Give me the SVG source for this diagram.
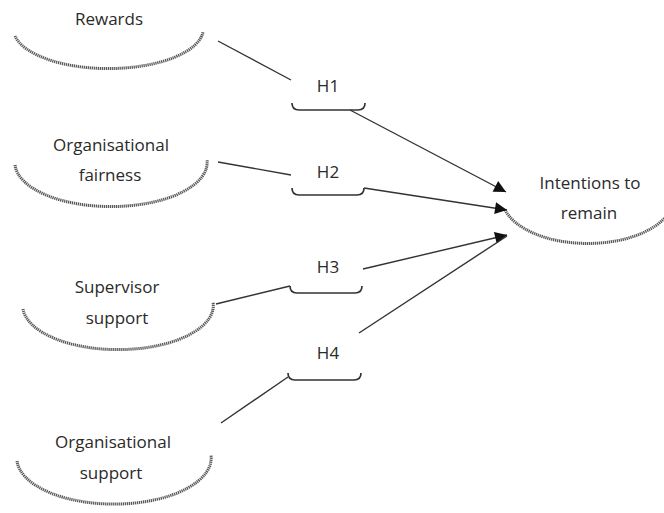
<svg xmlns="http://www.w3.org/2000/svg" width="664" height="513" viewBox="0 0 664 513">
<style>
.t{font-family:"Open Sans","Liberation Sans",sans-serif;font-size:17px;fill:#2a2a2a;text-anchor:middle}
.arc{fill:none;stroke:#5a5a5a;stroke-width:3;stroke-dasharray:1.3 0.7}
.br{fill:none;stroke:#333;stroke-width:1.7}
.ln{fill:none;stroke:#333;stroke-width:1.4}
</style>
<defs>
<marker id="ah" viewBox="0 0 10 10" refX="10" refY="5" markerWidth="13" markerHeight="12" markerUnits="userSpaceOnUse" orient="auto">
<path d="M0,0 L10,5 L0,10 z" fill="#111"/>
</marker>
</defs>
<rect width="664" height="513" fill="#fff"/>
<g id="rewards">
<path class="arc" d="M15,36 A95,40 0 0 0 203,32"/>
<text class="t" x="109" y="25">Rewards</text>
</g>
<g id="fairness">
<path class="arc" d="M15,165 A96,44 0 0 0 207,160"/>
<text class="t" x="111" y="151">Organisational</text>
<text class="t" x="110" y="181">fairness</text>
</g>
<g id="supervisor">
<path class="arc" d="M23,309 A95,44 0 0 0 213,302"/>
<text class="t" x="117" y="293">Supervisor</text>
<text class="t" x="117" y="324">support</text>
</g>
<g id="orgsupport">
<path class="arc" d="M17,461 A97,46 0 0 0 211,455"/>
<text class="t" x="113" y="448">Organisational</text>
<text class="t" x="111" y="479">support</text>
</g>
<g id="intentions">
<path class="arc" d="M505,210 A86,46 0 0 0 668,214"/>
<text class="t" x="590" y="189">Intentions to</text>
<text class="t" x="589" y="219">remain</text>
</g>
<g id="h1">
<path class="br" d="M292,103 q0,7 7,7 h59 q7,0 7,-7"/>
<text class="t" x="328" y="92">H1</text>
</g>
<g id="h2">
<path class="br" d="M292,188 q0,7 7,7 h58 q7,0 7,-7"/>
<text class="t" x="328" y="178">H2</text>
</g>
<g id="h3">
<path class="br" d="M290,286 q0,7 7,7 h58 q7,0 7,-7"/>
<text class="t" x="328" y="273">H3</text>
</g>
<g id="h4">
<path class="br" d="M288,373 q0,7 7,7 h59 q7,0 7,-7"/>
<text class="t" x="328" y="359">H4</text>
</g>
<g id="connectors">
<line class="ln" x1="218" y1="41" x2="291" y2="80"/>
<line class="ln" x1="218" y1="162" x2="291" y2="175"/>
<line class="ln" x1="216" y1="304" x2="290" y2="286"/>
<line class="ln" x1="221" y1="423" x2="288" y2="377"/>
<line class="ln" x1="350" y1="110" x2="506" y2="192" marker-end="url(#ah)"/>
<line class="ln" x1="364" y1="188" x2="507" y2="210" marker-end="url(#ah)"/>
<line class="ln" x1="363" y1="269" x2="507" y2="235" marker-end="url(#ah)"/>
<line class="ln" x1="359" y1="333" x2="507" y2="236"/>
</g>
</svg>
